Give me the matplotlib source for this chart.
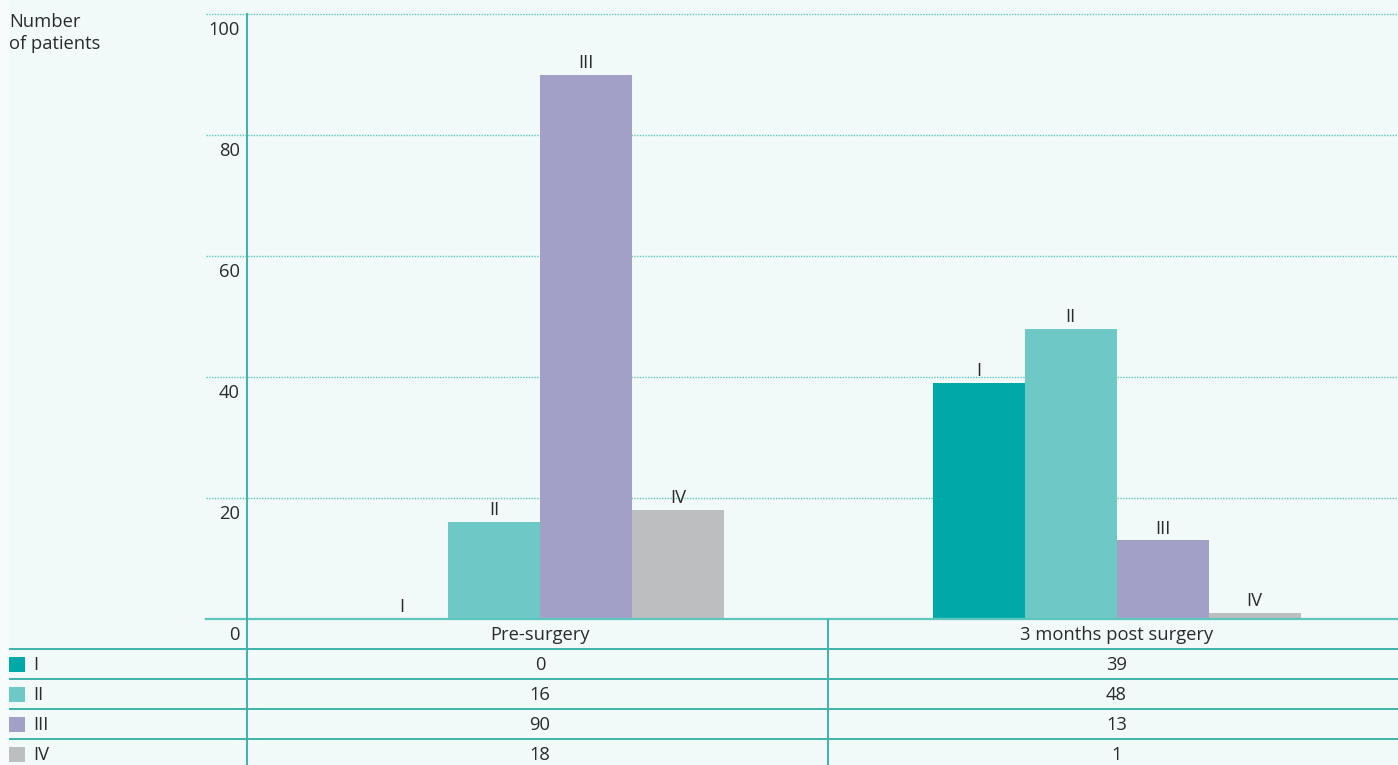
import matplotlib.pyplot as plt
from matplotlib.patches import Rectangle
import numpy as np

plt.rcParams['font.family'] = ['Open Sans', 'DejaVu Sans']

periods = ['Pre-surgery', '3 months post surgery']
grades = ['I', 'II', 'III', 'IV']
grade_i = [0, 39]
grade_ii = [16, 48]
grade_iii = [90, 13]
grade_iv = [18, 1]
y_ticks = [0, 20, 40, 60, 80, 100]

colors = ['#00a8a8', '#6ec8c5', '#a3a0c8', '#bdbec0']
teal = '#3fb3ab'
grid_teal = '#5cc6bf'
ink = '#2b2b2b'
bg = '#f1f9f9'
fs = 13.2

W, H = 1398, 765
fig = plt.figure(figsize=(W / 100, H / 100), dpi=100, facecolor=bg)
fig.patches.append(Rectangle((0, 0), 9 / W, 1, transform=fig.transFigure,
                             facecolor='#f8fbfb', edgecolor='none'))

ax_left, ax_right = 247 / W, 1.0
ax_bottom, ax_top = 1 - 619 / H, 1 - 14 / H
ax = fig.add_axes([ax_left, ax_bottom, ax_right - ax_left, ax_top - ax_bottom])
ax.set_facecolor('none')
# group centres sit at 0 and 1, divider between columns at 0.5
unit = 576.5
xlim = ((247 - 540) / unit, (1398 - 540) / unit)
ax.set_xlim(*xlim)
ax.set_ylim(0, 100)
for s in ax.spines.values():
    s.set_visible(False)
ax.set_xticks([])
ax.set_yticks([])

series = [grade_i, grade_ii, grade_iii, grade_iv]
x = np.arange(len(periods))
bw = 92 / unit
for i, (vals, c) in enumerate(zip(series, colors)):
    off = (i - 1.5) * bw
    bars = ax.bar(x + off, vals, bw, color=c, zorder=3)
    for b, v in zip(bars, vals):
        ax.annotate(grades[i], (b.get_x() + bw / 2, v), xytext=(0, 2),
                    textcoords='offset points', ha='center', va='bottom',
                    fontsize=fs, color=ink, zorder=4)

# gridlines reach left past the axis into the tick label column
gx0 = (206 - 247) / (W - 247)
for t in y_ticks:
    if t == 0:
        ax.plot([gx0, 1], [t, t], transform=ax.get_yaxis_transform(),
                color=grid_teal, lw=1.6, clip_on=False, zorder=5)
    else:
        ax.plot([gx0, 1], [t, t], transform=ax.get_yaxis_transform(),
                color=grid_teal, lw=1.0, ls=(0, (1, 1)), clip_on=False, zorder=1)
    ax.annotate(str(t), (-7 / (W - 247), t), xycoords=('axes fraction', 'data'),
                xytext=(0, -5), textcoords='offset points', ha='right', va='top',
                fontsize=fs, color=ink)

fig.text(9 / W, 1 - 13 / H, 'Number\nof patients', ha='left', va='top',
         fontsize=fs, color=ink, linespacing=1.3)

# data table under the chart
tab_h = H - 619
tax = fig.add_axes([ax_left, 0, ax_right - ax_left, tab_h / H])
tax.set_facecolor('none')
tax.set_xlim(*xlim)
tax.set_ylim(tab_h, 0)
tax.axis('off')

row_y = [16, 46, 76, 106, 136]
lx0 = (9 - 247) / (W - 247)
for yl in [30, 60, 90, 120]:
    tax.plot([lx0, 1], [yl, yl], transform=tax.get_yaxis_transform(),
             color=teal, lw=1.4, clip_on=False)
tax.axvline(0.5, color=teal, lw=1.4)

# y axis line runs from the top of the chart through the table
fig.add_artist(plt.Line2D([247 / W, 247 / W], [0, 1 - 14 / H], color=teal, lw=1.4))

for j, p in enumerate(periods):
    tax.text(x[j], row_y[0], p, ha='center', va='center', fontsize=fs, color=ink)
    for i, vals in enumerate(series):
        tax.text(x[j], row_y[i + 1], str(vals[j]), ha='center', va='center',
                 fontsize=fs, color=ink)

px = 1 / (W - 247)
for i, g in enumerate(grades):
    tax.add_patch(Rectangle((lx0, row_y[i + 1] - 8), 16 * px, 15,
                            transform=tax.get_yaxis_transform(), facecolor=colors[i],
                            edgecolor='none', clip_on=False))
    tax.text(lx0 + 24 * px, row_y[i + 1], g, transform=tax.get_yaxis_transform(),
             ha='left', va='center', fontsize=fs, color=ink)

fig.savefig('out.png', dpi=100, facecolor=bg)
